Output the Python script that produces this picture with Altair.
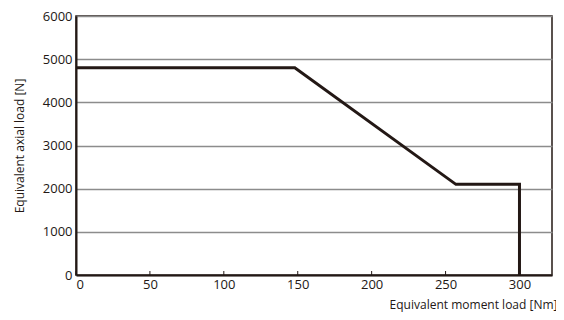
import altair as alt
import pandas as pd

moment = [0, 148, 257, 300, 300]
axial = [4800, 4800, 2100, 2100, 0]
x_ticks = [0, 50, 100, 150, 200, 250, 300]
y_ticks = [0, 1000, 2000, 3000, 4000, 5000, 6000]

df = pd.DataFrame({"m": moment, "a": axial, "order": list(range(len(moment)))})
tick_df = pd.DataFrame({"t": x_ticks})

W, H = 476, 259
FONT = "Open Sans"

xs = alt.Scale(domain=[0, 322], nice=False, zero=False)
ys = alt.Scale(domain=[0, 6000], nice=False)

line = alt.Chart(df).mark_line(color="#231815", strokeWidth=3, strokeJoin="miter").encode(
    x=alt.X("m:Q", scale=xs, axis=alt.Axis(
        values=x_ticks, format="d", title="Equivalent moment load [Nm]", grid=False,
        ticks=False, domainColor="#231815", domainWidth=2,
        labelFont=FONT, labelFontSize=13, labelColor="#231815", labelPadding=3,
        titleFont=FONT, titleFontSize=12, titleFontWeight="normal", titleColor="#231815",
        titleAlign="right", titleX=W + 5, titleY=24, titleBaseline="top")),
    y=alt.Y("a:Q", scale=ys, axis=alt.Axis(
        values=y_ticks, format="d", title="Equivalent axial load [N]", grid=True,
        gridColor="#8c8c8c", gridWidth=1.5, ticks=False,
        domainColor="#231815", domainWidth=2,
        labelFont=FONT, labelFontSize=13, labelColor="#231815", labelPadding=4,
        titleFont=FONT, titleFontSize=12, titleFontWeight="normal", titleColor="#231815",
        titlePadding=16)),
    order="order:Q",
)

ticks = alt.Chart(tick_df).mark_rule(color="#231815", strokeWidth=1).encode(
    x=alt.X("t:Q", scale=xs),
    y=alt.value(H),
    y2=alt.value(H - 4),
)

chart = alt.layer(ticks, line).properties(
    width=W, height=H,
    autosize=alt.AutoSizeParams(type="none"),
    padding={"left": 68, "top": 8, "right": 4, "bottom": 37},
).configure_view(stroke="#231815", strokeWidth=1.5)

chart.save("out.html", embed_options={"renderer": "svg", "actions": False})
